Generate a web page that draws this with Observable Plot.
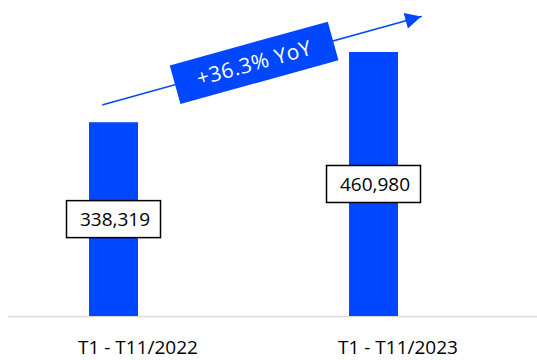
<!DOCTYPE html>
<html><head><meta charset="utf-8">
<script src="https://cdn.jsdelivr.net/npm/d3@7"></script>
<script src="https://cdn.jsdelivr.net/npm/@observablehq/plot@0.6"></script>
<style>body{margin:0;background:#fff;}</style>
</head><body><div id="chart"></div>
<script>
// ---- data ----
const periods = ["T1 - T11/2022", "T1 - T11/2023"];
const totals = [338319, 460980];
const growthLabel = "+36.3% YoY";
// trend arrow annotation, in data units (period, value)
const trendStart = [periods[0], 375000];
const trendEnd = [periods[1], 501000];

const BLUE = "#0047ff";
const FONT = "'Open Sans', 'Noto Sans', sans-serif";
const rows = periods.map((p, i) => ({period: p, total: totals[i], mid: totals[i] / 2}));
const trend = [{x1: trendStart[0], y1: trendStart[1], x2: trendEnd[0], y2: trendEnd[1], label: growthLabel}];

function decorateArrow(index, scales, values, dimensions, context, next) {
  const g = next(index, scales, values, dimensions, context);
  const path = g.querySelector("path");
  if (!path) return g;
  const n = path.getAttribute("d").match(/-?\d*\.?\d+(?:e-?\d+)?/g).map(Number);
  const [x1, y1, x2, y2] = n;
  const ang = Math.atan2(y2 - y1, x2 - x1);
  const deg = ang * 180 / Math.PI;
  const sel = d3.select(g);
  // filled head
  const L = 16, W = 8;
  const bx = x2 - L * Math.cos(ang), by = y2 - L * Math.sin(ang);
  const px = -Math.sin(ang) * W, py = Math.cos(ang) * W;
  sel.append("path")
    .attr("d", `M${x2},${y2}L${bx + px},${by + py}L${bx - px},${by - py}Z`)
    .attr("fill", BLUE).attr("stroke", "none");
  // rotated label box
  const t = 0.475;
  const cx = x1 + (x2 - x1) * t, cy = y1 + (y2 - y1) * t;
  const lab = sel.append("g").attr("transform", `translate(${cx},${cy}) rotate(${deg})`);
  lab.append("rect").attr("x", -82).attr("y", -20).attr("width", 164).attr("height", 40)
    .attr("fill", BLUE).attr("stroke", "none");
  lab.append("text").text(trend[0].label)
    .attr("text-anchor", "middle").attr("dy", "0.36em")
    .attr("fill", "white").attr("stroke", "none")
    .attr("font-family", FONT).attr("font-size", 21).attr("letter-spacing", 0.6);
  return g;
}

const chart = Plot.plot({
  width: 537,
  height: 360,
  marginTop: 1,
  marginBottom: 44,
  marginLeft: 8,
  marginRight: 0,
  style: {background: "white", fontFamily: FONT, overflow: "visible"},
  x: {type: "band", domain: periods, range: [88.5, 398], paddingInner: 0.81, paddingOuter: 0, align: 0.5, label: null},
  y: {domain: [0, 550000], axis: null},
  marks: [
    Plot.ruleY([0], {stroke: "#d9d9d9", strokeWidth: 1.5}),
    Plot.barY(rows, {x: "period", y: "total", fill: BLUE}),
    Plot.barY(rows, {x: "period", y1: "mid", y2: "mid", fill: "white", stroke: "black", strokeWidth: 1.5,
      insetTop: -18.5, insetBottom: -18.5, insetLeft: -22.5, insetRight: -22.5}),
    Plot.text(rows, {x: "period", y: "mid", text: d => d3.format(",")(d.total), fontSize: 19, fill: "black", dx: 1}),
    Plot.arrow(trend, {x1: "x1", y1: "y1", x2: "x2", y2: "y2", stroke: BLUE, strokeWidth: 1.5,
      headLength: 0, insetStart: -11.5, insetEnd: -49, render: decorateArrow}),
    Plot.axisX({tickSize: 0, tickPadding: 24, dx: 24, fontSize: 19, fill: "black", label: null})
  ]
});
document.getElementById("chart").append(chart);
</script>
</body></html>
